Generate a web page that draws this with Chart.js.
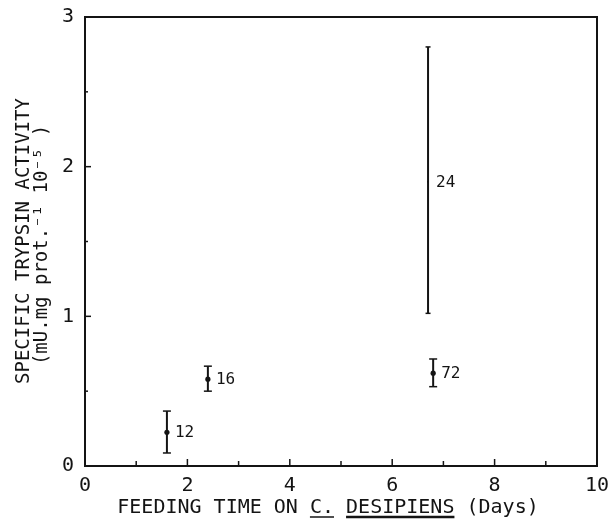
<!DOCTYPE html>
<html>
<head>
<meta charset="utf-8">
<script src="https://cdn.jsdelivr.net/npm/chart.js@4.4.1/dist/chart.umd.min.js"></script>
<style>
  html, body { margin: 0; padding: 0; background: #fff; }
  #wrap { width: 614px; height: 519px; }
</style>
</head>
<body>
<div id="wrap"><canvas id="trypsin"></canvas></div>
<script>
// feeding time (days) and specific trypsin activity
let days = [1.6, 2.4, 6.7, 6.8];
let activity = [0.225, 0.58, 1.9, 0.62];
let activityLow = [0.087, 0.5, 1.02, 0.53];
let activityHigh = [0.367, 0.667, 2.8, 0.715];
let pointLabels = ["12", "16", "24", "72"];
let capSizes = [4, 4, 2.5, 4];
let dotSizes = [2.6, 2.6, 1, 2.6];

let xTicks = [0, 2, 4, 6, 8, 10];
let yTicks = [0, 1, 2, 3];
let xMinorTicks = [1, 2, 3, 4, 5, 6, 7, 8, 9];
let yMinorTicks = [0.5, 1, 1.5, 2, 2.5];

let xTitle = ["FEEDING TIME ON ", "C.", " ", "DESIPIENS", " (Days)"];
let yTitle = ["SPECIFIC TRYPSIN ACTIVITY", "(mU.mg prot.\u207B\u00B9 10\u207B\u2075 )"];

let ink = "#141414";
let mono = "'DejaVu Sans Mono', monospace";

let errorBars = days.map((d, i) => {
  return {
    data: [
      { x: d, y: activityLow[i] },
      { x: d, y: activityHigh[i] },
    ],
    showLine: true,
    borderColor: ink,
    borderWidth: 2,
    pointStyle: "line",
    pointRadius: capSizes[i],
    pointBorderColor: ink,
    pointBorderWidth: 1.5,
    pointHoverRadius: capSizes[i],
  };
});

let means = {
  data: days.map((d, i) => ({ x: d, y: activity[i] })),
  showLine: false,
  pointStyle: "circle",
  pointRadius: dotSizes,
  pointHoverRadius: dotSizes,
  backgroundColor: ink,
  borderColor: ink,
  borderWidth: 0,
};

let framePlugin = {
  id: "frame",
  afterDraw(chart) {
    let ctx = chart.ctx;
    let a = chart.chartArea;
    let xs = chart.scales.x;
    let ys = chart.scales.y;
    ctx.save();
    ctx.strokeStyle = ink;
    ctx.lineWidth = 2;
    ctx.beginPath();
    ctx.moveTo(a.left, a.top);
    ctx.lineTo(a.right, a.top);
    ctx.lineTo(a.right, a.bottom);
    ctx.stroke();
    // inward ticks
    ctx.lineWidth = 1.5;
    for (const v of xMinorTicks) {
      let px = xs.getPixelForValue(v);
      let len = v % 2 == 0 ? 7 : 5;
      ctx.beginPath();
      ctx.moveTo(px, a.bottom);
      ctx.lineTo(px, a.bottom - len);
      ctx.stroke();
    }
    for (const v of yMinorTicks) {
      let py = ys.getPixelForValue(v);
      let len = v % 1 == 0 ? 6 : 3;
      ctx.beginPath();
      ctx.moveTo(a.left, py);
      ctx.lineTo(a.left + len, py);
      ctx.stroke();
    }
    ctx.restore();
  },
};

let textPlugin = {
  id: "texts",
  afterDatasetsDraw(chart) {
    let ctx = chart.ctx;
    let xs = chart.scales.x;
    let ys = chart.scales.y;
    ctx.save();
    ctx.fillStyle = ink;
    ctx.font = `16px ${mono}`;
    ctx.textBaseline = "middle";
    ctx.textAlign = "left";
    for (const i in pointLabels) {
      ctx.fillText(
        pointLabels[i],
        xs.getPixelForValue(days[i]) + 8,
        ys.getPixelForValue(activity[i]) + 1
      );
    }

    // x title, with underlined species name
    ctx.font = `20px ${mono}`;
    ctx.textBaseline = "alphabetic";
    let full = xTitle.join("");
    let x0 = 328 - ctx.measureText(full).width / 2;
    let cursor = x0;
    ctx.strokeStyle = ink;
    for (const [k, part] of xTitle.entries()) {
      let w = ctx.measureText(part).width;
      ctx.fillText(part, cursor, 513);
      if (k == 1 || k == 3) {
        ctx.lineWidth = k == 3 ? 2.5 : 1.5;
        ctx.beginPath();
        ctx.moveTo(cursor, 517);
        ctx.lineTo(cursor + w, 517);
        ctx.stroke();
      }
      cursor += w;
    }

    // y title, two rotated lines
    ctx.translate(0, 241);
    ctx.rotate(-Math.PI / 2);
    ctx.textAlign = "center";
    ctx.font = `19px ${mono}`;
    ctx.fillText(yTitle[0], 0, 29);
    ctx.fillText(yTitle[1], -4, 47);
    ctx.restore();
  },
};

let config = {
  type: "scatter",
  data: { datasets: [...errorBars, means] },
  options: {
    animation: false,
    responsive: true,
    maintainAspectRatio: false,
    layout: { padding: { left: 0, right: 17, top: 17, bottom: 0 } },
    plugins: {
      legend: { display: false },
      tooltip: { enabled: false },
    },
    scales: {
      x: {
        type: "linear",
        min: 0,
        max: 10,
        afterBuildTicks: (s) => {
          s.ticks = xTicks.map((v) => ({ value: v }));
        },
        afterFit: (s) => {
          s.height = 53;
          s.paddingLeft = 0;
          s.paddingRight = 0;
        },
        grid: { display: false },
        border: { display: true, color: ink, width: 2 },
        ticks: {
          color: ink,
          padding: 0,
          maxRotation: 0,
          font: { family: mono, size: 20 },
        },
      },
      y: {
        type: "linear",
        min: 0,
        max: 3,
        afterBuildTicks: (s) => {
          s.ticks = yTicks.map((v) => ({ value: v }));
        },
        afterFit: (s) => {
          s.width = 85;
          s.paddingTop = 0;
          s.paddingBottom = 0;
        },
        grid: { display: false },
        border: { display: true, color: ink, width: 2 },
        ticks: {
          color: ink,
          padding: 3,
          font: { family: mono, size: 20 },
        },
      },
    },
  },
  plugins: [framePlugin, textPlugin],
};

new Chart(document.getElementById("trypsin").getContext("2d"), config);
</script>
</body>
</html>
